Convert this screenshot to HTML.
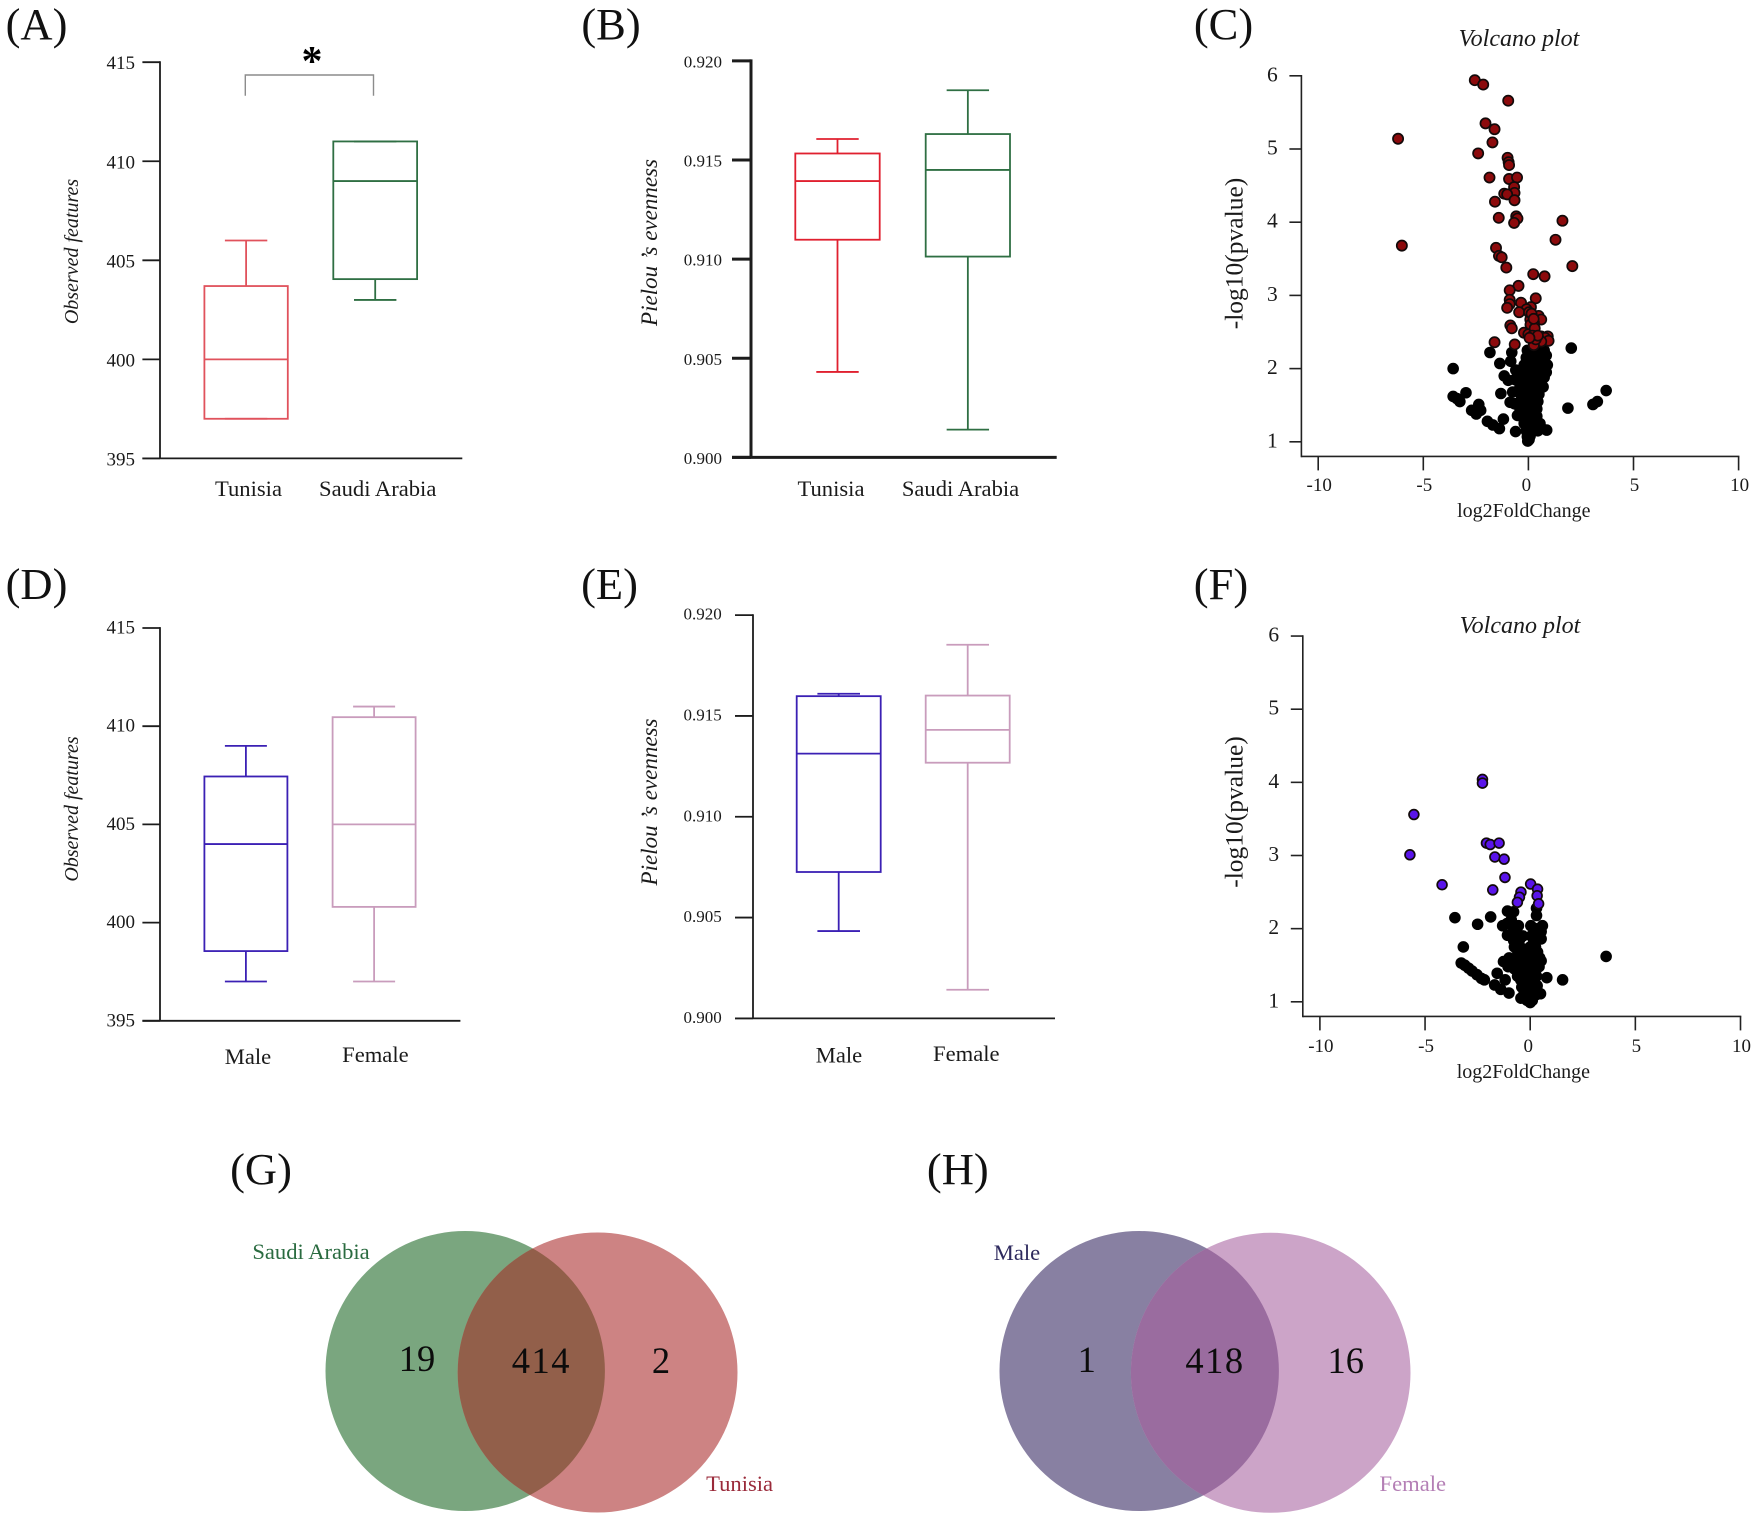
<!DOCTYPE html>
<html lang="en">
<head>
<meta charset="utf-8">
<title>Diversity, volcano and Venn panels</title>
<style>
html,body{margin:0;padding:0;background:#fff;}
svg{display:block;}
text{font-family:"Liberation Serif",serif;fill:#1a1a1a;}
</style>
</head>
<body>
<svg id="figure" xmlns="http://www.w3.org/2000/svg" width="1755" height="1517" viewBox="0 0 1755 1517"></svg>
<script>
// ---------- Box plot data: [low, q1, median, q3, high] ----------
const observedTicks = [395, 400, 405, 410, 415];
const evennessTicks = ['0.900', '0.905', '0.910', '0.915', '0.920'];

const countryCategories = ['Tunisia', 'Saudi Arabia'];
const sexCategories = ['Male', 'Female'];

const boxATunisia = [397, 397, 400, 403.7, 406];
const boxASaudi = [403, 404.05, 409, 411, 411];
const boxBTunisia = [0.90431, 0.91098, 0.91394, 0.91533, 0.91606];
const boxBSaudi = [0.9014, 0.91013, 0.9145, 0.91631, 0.91852];
const boxDMale = [397, 398.55, 404, 407.44, 409];
const boxDFemale = [397, 400.8, 405, 410.46, 411];
const boxEMale = [0.90433, 0.90726, 0.91313, 0.91598, 0.9161];
const boxEFemale = [0.90142, 0.91268, 0.91431, 0.91601, 0.91853];

// ---------- Volcano data: [log2FoldChange, -log10(pvalue)] ----------
const volcanoXTicks = [-10, -5, 0, 5, 10];
const volcanoYTicks = [1, 2, 3, 4, 5, 6];

const volcanoCSignificant = [
[-2.55,5.94],[-2.15,5.88],[-0.96,5.66],[-2.04,5.35],[-1.61,5.27],[-1.71,5.09],[-6.2,5.14],[-2.39,4.94],
[-0.99,4.88],[-0.94,4.82],[-0.92,4.78],[-1.85,4.61],[-0.92,4.59],[-0.54,4.61],[-0.68,4.48],[-0.66,4.4],
[-1.15,4.39],[-1.01,4.38],[-0.66,4.3],[-1.59,4.28],[-1.41,4.06],[-0.58,4.08],[-0.52,4.05],[-0.68,3.99],
[1.62,4.02],[1.29,3.76],[-6.02,3.68],[-1.54,3.65],[-1.4,3.54],[-1.27,3.52],[-1.05,3.38],[2.09,3.4],
[0.23,3.29],[0.77,3.26],[-0.47,3.13],[-0.89,3.07],[0.35,2.96],[-0.89,2.94],[-0.35,2.9],[-0.89,2.88],
[-1.01,2.83],[0.12,2.84],[-0.09,2.81],[-0.44,2.77],[0.03,2.77],[0.26,2.72],[0.49,2.72],[0.61,2.67],
[0.09,2.67],[0.26,2.63],[-0.86,2.59],[-0.79,2.55],[0.17,2.58],[0.17,2.51],[-0.21,2.49],[0,2.47],
[0.61,2.44],[0.92,2.44],[0.79,2.42],[0.96,2.38],[-1.61,2.36],[-0.65,2.33],[0.26,2.35],[0.61,2.37],[0.26,2.32],
[0.15,2.75],[0.1,2.6],[0.3,2.55],[0.2,2.45],[0.35,2.4],[0.45,2.45],[0.05,2.42],[0.25,2.68]
];
const volcanoCOther = [
[2.04,2.28],[-1.83,2.22],[-0.79,2.22],[-0.84,2.1],[-1.36,2.07],[-3.58,2],[-1.15,1.9],[-0.96,1.84],
[-2.97,1.67],[-3.58,1.62],[-3.4,1.59],[-3.26,1.55],[-1.31,1.66],[3.7,1.7],[3.28,1.55],[3.07,1.51],
[1.88,1.46],[-2.36,1.51],[-2.7,1.43],[-2.48,1.38],[-2.27,1.43],[-1.95,1.28],[-1.69,1.23],[-1.38,1.18],
[-1.19,1.31],[-0.61,1.14],[0.87,1.16],[0.61,1.19],[-0.75,1.68],[-0.87,1.54],[-0.66,1.52],[-0.52,1.36],
[-0.03,1.01],[0.03,1.03],[-0.6,1.98],[-0.65,1.85],
[-0.05,2.25],[0.2,2.25],[0.45,2.25],[0.75,2.25],[-0.1,2.15],[0.15,2.15],[0.4,2.15],[0.7,2.15],[0.85,2.18],
[-0.2,2.05],[0.1,2.05],[0.35,2.05],[0.6,2.05],[0.9,2.05],[-0.3,1.95],[0,1.95],[0.3,1.95],[0.55,1.95],[0.85,1.95],
[-0.35,1.85],[-0.05,1.85],[0.25,1.85],[0.5,1.85],[0.75,1.88],[-0.4,1.75],[-0.1,1.75],[0.2,1.75],[0.45,1.75],[0.7,1.75],
[-0.35,1.65],[-0.05,1.65],[0.25,1.65],[0.5,1.65],[-0.4,1.55],[-0.1,1.55],[0.2,1.55],[0.45,1.55],
[-0.4,1.45],[-0.05,1.45],[0.2,1.45],[0.4,1.45],[-0.35,1.35],[0,1.35],[0.25,1.35],[0.4,1.35],
[-0.2,1.25],[0.05,1.25],[0.3,1.25],[0.55,1.25],[-0.1,1.15],[0.15,1.15],[0.45,1.15],[-0.05,1.07],[0.08,1.08]
];
const volcanoFSignificant = [
[-2.27,4.04],[-2.27,3.99],[-5.53,3.56],[-5.72,3.01],[-2.08,3.17],[-1.9,3.15],[-1.48,3.17],[-1.68,2.98],
[-1.24,2.95],[-1.2,2.7],[-4.19,2.6],[-1.78,2.53],[0.02,2.61],[0.35,2.54],[0.33,2.45],[0.4,2.34],
[-0.44,2.5],[-0.51,2.43],[-0.61,2.36]
];
const volcanoFOther = [
[-1.08,2.24],[-0.79,2.23],[0.3,2.28],[0.3,2.18],[-3.58,2.15],[-1.88,2.16],[-2.5,2.06],[-1.31,2.04],[-1.1,2.07],
[-0.87,2.05],[-0.56,2.04],[0.03,2.04],[0.58,2.04],[-1.08,1.91],[0.52,1.96],[0.52,1.86],[-0.35,1.9],[-0.79,1.93],
[-0.79,1.84],[0.17,1.91],[0.17,1.82],[-3.18,1.75],[-0.52,1.77],[0,1.75],[3.61,1.62],[-3.28,1.53],[-3.11,1.5],
[-2.93,1.46],[-2.76,1.42],[-2.53,1.37],[-2.32,1.32],[-2.18,1.3],[0.79,1.33],[1.54,1.3],[-1.27,1.55],[-1.57,1.39],
[-1.19,1.3],[-1.69,1.23],[-1.4,1.17],[-1.01,1.12],[0.52,1.56],[0.49,1.11],[0,0.99],[-0.44,1.05],
[-0.75,1.75],[-0.6,1.7],[-0.45,1.68],[-0.3,1.72],[-0.15,1.7],[0.1,1.72],[0.25,1.75],[0.35,1.68],
[-1,1.6],[-0.85,1.58],[-0.7,1.55],[-0.55,1.6],[-0.4,1.55],[-0.25,1.6],[-0.1,1.55],[0.05,1.6],[0.2,1.58],[0.35,1.55],[0.45,1.6],
[-1.05,1.48],[-0.9,1.5],[-0.75,1.45],[-0.6,1.48],[-0.45,1.42],[-0.3,1.48],[-0.15,1.42],[0,1.48],[0.15,1.42],[0.3,1.45],[0.42,1.48],
[-0.6,1.35],[-0.45,1.3],[-0.3,1.35],[-0.15,1.3],[0,1.35],[0.15,1.3],[0.3,1.35],
[-0.4,1.2],[-0.25,1.22],[-0.1,1.18],[0.05,1.22],[0.2,1.2],[0.33,1.22],
[-0.3,1.1],[-0.15,1.08],[0,1.12],[0.15,1.08],[0.3,1.1],[-0.15,1.02],[0.1,1.02],
[-0.7,1.85],[-0.5,1.85],[-0.65,2],[-0.9,2.12],[0.05,1.9],[0.25,2],[0.42,2]
];

// ---------- Venn counts ----------
const vennGCounts = [19, 414, 2];
const vennHCounts = [1, 418, 16];

// ---------- Drawing helpers ----------
const NS = 'http://www.w3.org/2000/svg';
const root = document.getElementById('figure');

function shape(parent, tag, name, props) {
  const el = document.createElementNS(NS, tag);
  
  
  for (const k in props) { el.setAttribute(k, props[k]); }
  parent.appendChild(el);
  return el;
}
function group(parent, name) {
  return shape(parent, 'g', name, {});
}
function line(parent, name, x1, y1, x2, y2, color, width) {
  return shape(parent, 'line', name, {x1: x1, y1: y1, x2: x2, y2: y2, stroke: color, 'stroke-width': width});
}
function label(parent, name, str, x, y, size, opts) {
  const o = opts || {};
  const el = shape(parent, 'text', name, {x: x, y: y, 'font-size': size, 'text-anchor': o.anchor || 'middle'});
  if (o.italic) { el.setAttribute('font-style', 'italic'); }
  if (o.weight) { el.setAttribute('font-weight', o.weight); }
  if (o.color) { el.setAttribute('style', 'fill:' + o.color); }
  if (o.rotate) { el.setAttribute('transform', 'rotate(-90 ' + x + ' ' + y + ')'); }
  if (o.spacing) { el.setAttribute('letter-spacing', o.spacing); }
  el.textContent = str;
  return el;
}

function boxPlot(cfg) {
  const g = group(root, cfg.name);
  const y = function (v) { return cfg.yBottom + (v - cfg.vMin) / (cfg.vMax - cfg.vMin) * (cfg.yTop - cfg.yBottom); };
  const axisColor = '#1c1c1c';
  line(g, 'y-axis', cfg.axisX, y(cfg.vMax) - cfg.axisW / 2, cfg.axisX, cfg.yBottom, axisColor, cfg.axisW);
  line(g, 'x-axis', cfg.tickLeft, cfg.yBottom, cfg.xEnd, cfg.yBottom, axisColor, cfg.axisW);
  cfg.ticks.forEach(function (t) {
    const v = Number(t);
    line(g, 'y-tick', cfg.tickLeft, y(v), cfg.axisX, y(v), axisColor, cfg.axisW);
    label(g, 'y-tick-label', t, cfg.labelRight, y(v) + cfg.labelDy, cfg.tickSize, {anchor: 'end'});
  });
  label(g, 'y-axis-title', cfg.title, cfg.titleX, cfg.titleY, cfg.titleSize, {italic: true, rotate: true});
  cfg.series.forEach(function (s, i) {
    const b = g.appendChild(document.createElementNS(NS, 'g'));
    
    
    const cx = (s.x0 + s.x1) / 2;
    const capL = cx - s.cap, capR = cx + s.cap;
    const d = s.values;
    line(b, 'whisker-high', cx, y(d[3]), cx, y(d[4]), s.color, 1.8);
    line(b, 'whisker-low', cx, y(d[1]), cx, y(d[0]), s.color, 1.8);
    line(b, 'cap-high', capL, y(d[4]), capR, y(d[4]), s.color, 1.8);
    line(b, 'cap-low', capL, y(d[0]), capR, y(d[0]), s.color, 1.8);
    shape(b, 'rect', 'box-body', {x: s.x0, y: y(d[3]), width: s.x1 - s.x0, height: y(d[1]) - y(d[3]), fill: 'none', stroke: s.color, 'stroke-width': 1.8});
    line(b, 'median', s.x0, y(d[2]), s.x1, y(d[2]), s.color, 1.8);
    label(g, 'category-label', s.label, s.labelX, s.labelY, 22.6);
  });
  return g;
}

function volcano(cfg) {
  const g = group(root, cfg.name);
  const sx = function (v) { return cfg.x0 + v * cfg.xPerUnit; };
  const sy = function (v) { return cfg.y1 - (v - 1) * cfg.yPerUnit; };
  const axis = '#222';
  line(g, 'y-axis', cfg.axisX, sy(6) - 0.8, cfg.axisX, cfg.yBottom + 0.8, axis, 1.6);
  line(g, 'x-axis', cfg.axisX, cfg.yBottom, sx(10) + 0.8, cfg.yBottom, axis, 1.6);
  volcanoYTicks.forEach(function (t) {
    line(g, 'y-tick', cfg.axisX - 12, sy(t), cfg.axisX, sy(t), axis, 1.6);
    label(g, 'y-tick-label', String(t), cfg.axisX - 29, sy(t) + 5.5, 21.5);
  });
  volcanoXTicks.forEach(function (t) {
    line(g, 'x-tick', sx(t), cfg.yBottom, sx(t), cfg.yBottom + 14, axis, 1.6);
    label(g, 'x-tick-label', String(t), sx(t) + (t === 0 ? -2 : 1), cfg.xLabelY, 19);
  });
  label(g, 'x-axis-title', 'log2FoldChange', cfg.xTitleX, cfg.xTitleY, 20);
  label(g, 'y-axis-title', '-log10(pvalue)', 1242.5, cfg.yTitleY, 25.5, {rotate: true});
  label(g, 'chart-title', 'Volcano plot', cfg.titleX, cfg.titleY, 24, {italic: true});
  const other = group(g, 'non-significant-points');
  cfg.other.forEach(function (p) {
    shape(other, 'circle', 'point-non-significant', {cx: sx(p[0]), cy: sy(p[1]), r: 5.8, fill: '#000'});
  });
  const sig = group(g, 'significant-points');
  cfg.significant.forEach(function (p) {
    shape(sig, 'circle', 'point-significant', {cx: sx(p[0]), cy: sy(p[1]), r: cfg.sigR, fill: cfg.sigColor, stroke: '#120a0a', 'stroke-width': 1.7});
  });
  return g;
}

let clipCounter = 0;
function venn(cfg) {
  const g = group(root, cfg.name);
  const a = cfg.a, b = cfg.b;
  shape(g, 'ellipse', 'venn-circle-' + a.label.toLowerCase().replace(' ', '-'), {cx: a.cx, cy: a.cy, rx: a.rx, ry: a.ry, fill: a.fill});
  shape(g, 'ellipse', 'venn-circle-' + b.label.toLowerCase().replace(' ', '-'), {cx: b.cx, cy: b.cy, rx: b.rx, ry: b.ry, fill: b.fill});
  clipCounter += 1;
  const id = 'vennClip' + clipCounter;
  const clip = document.createElementNS(NS, 'clipPath');
  clip.setAttribute('id', id);
  const ce = document.createElementNS(NS, 'ellipse');
  ce.setAttribute('cx', a.cx); ce.setAttribute('cy', a.cy); ce.setAttribute('rx', a.rx); ce.setAttribute('ry', a.ry);
  clip.appendChild(ce);
  g.appendChild(clip);
  shape(g, 'ellipse', 'venn-overlap', {cx: b.cx, cy: b.cy, rx: b.rx, ry: b.ry, fill: cfg.overlap, 'clip-path': 'url(#' + id + ')'});
  label(g, 'set-label', a.label, a.labelX, a.labelY, 22.6, {color: a.labelColor});
  label(g, 'set-label', b.label, b.labelX, b.labelY, 22.6, {color: b.labelColor});
  cfg.counts.forEach(function (c, i) {
    label(g, 'venn-count', String(c), cfg.countX[i], cfg.countY[i], 36.5, {color: '#0c0c0c', spacing: String(c).length > 2 ? 1.5 : 0});
  });
  return g;
}

// ---------- Panel letters ----------
const panelLetters = group(root, 'panel-letters');
[['(A)', 36.5, 39], ['(B)', 611, 39], ['(C)', 1223.5, 39], ['(D)', 36.5, 599], ['(E)', 609.5, 599], ['(F)', 1221, 599], ['(G)', 261, 1184], ['(H)', 957.8, 1184]]
  .forEach(function (p) { label(panelLetters, 'panel-letter', p[0], p[1], p[2], 44.5, {color: '#111'}); });

// ---------- Panels ----------
const redA = '#e0525c', greenA = '#2f6f43', redB = '#e0202f', blueD = '#3b20b4', pinkD = '#c99cbc';

const panelA = boxPlot({
  name: 'panel-a-observed-features', vMin: 395, vMax: 415, yTop: 62.2, yBottom: 458.4, axisX: 160, tickLeft: 142.4, xEnd: 462.3, axisW: 1.8,
  ticks: observedTicks, labelRight: 135, labelDy: 7, tickSize: 19, title: 'Observed features', titleX: 78, titleY: 251.5, titleSize: 20,
  series: [
    {label: countryCategories[0], values: boxATunisia, x0: 204.4, x1: 287.8, cap: 21.2, color: redA, labelX: 248.5, labelY: 496},
    {label: countryCategories[1], values: boxASaudi, x0: 333.3, x1: 417.1, cap: 21.2, color: greenA, labelX: 377.7, labelY: 496}
  ]
});
shape(panelA, 'path', 'significance-bracket', {d: 'M245.3 95.7V75H373.5V95.7', fill: 'none', stroke: '#8c8c8c', 'stroke-width': 1.4});
label(panelA, 'significance-star', '*', 312, 75, 42, {color: '#000', weight: 'bold'});

boxPlot({
  name: 'panel-b-pielou-evenness', vMin: 0.9, vMax: 0.92, yTop: 60.9, yBottom: 457.4, axisX: 751, tickLeft: 732, xEnd: 1056.7, axisW: 3,
  ticks: evennessTicks, labelRight: 722, labelDy: 6.5, tickSize: 17, title: 'Pielou ’s evenness', titleX: 657, titleY: 242.5, titleSize: 23,
  series: [
    {label: countryCategories[0], values: boxBTunisia, x0: 795.3, x1: 879.7, cap: 21.2, color: redB, labelX: 831, labelY: 496},
    {label: countryCategories[1], values: boxBSaudi, x0: 925.7, x1: 1010, cap: 21.2, color: greenA, labelX: 960.5, labelY: 496}
  ]
});

volcano({
  name: 'panel-c-volcano', x0: 1528.4, xPerUnit: 21.02, y1: 441.8, yPerUnit: 73.2, axisX: 1301.4, yBottom: 456.4,
  xLabelY: 491, xTitleX: 1523.8, xTitleY: 517, yTitleY: 253.5, titleX: 1519, titleY: 46,
  significant: volcanoCSignificant, other: volcanoCOther, sigR: 5.1, sigColor: '#8c0a0c'
});

boxPlot({
  name: 'panel-d-observed-features', vMin: 395, vMax: 415, yTop: 628, yBottom: 1020.8, axisX: 160, tickLeft: 142.4, xEnd: 460.4, axisW: 1.8,
  ticks: observedTicks, labelRight: 135, labelDy: 5.5, tickSize: 19, title: 'Observed features', titleX: 78, titleY: 809, titleSize: 20,
  series: [
    {label: sexCategories[0], values: boxDMale, x0: 204.4, x1: 287.4, cap: 21, color: blueD, labelX: 248, labelY: 1064},
    {label: sexCategories[1], values: boxDFemale, x0: 332.6, x1: 415.6, cap: 21, color: pinkD, labelX: 375.4, labelY: 1062}
  ]
});

boxPlot({
  name: 'panel-e-pielou-evenness', vMin: 0.9, vMax: 0.92, yTop: 615.1, yBottom: 1018.4, axisX: 753, tickLeft: 735, xEnd: 1055, axisW: 1.8,
  ticks: evennessTicks, labelRight: 721.7, labelDy: 4.5, tickSize: 17, title: 'Pielou ’s evenness', titleX: 657, titleY: 802, titleSize: 23,
  series: [
    {label: sexCategories[0], values: boxEMale, x0: 796.7, x1: 880.7, cap: 21.3, color: blueD, labelX: 839, labelY: 1062.7},
    {label: sexCategories[1], values: boxEFemale, x0: 925.7, x1: 1009.7, cap: 21.3, color: pinkD, labelX: 966.3, labelY: 1061}
  ]
});

volcano({
  name: 'panel-f-volcano', x0: 1530.2, xPerUnit: 21.03, y1: 1001.8, yPerUnit: 73.15, axisX: 1302.8, yBottom: 1016.4,
  xLabelY: 1052, xTitleX: 1523.4, xTitleY: 1078, yTitleY: 812, titleX: 1520, titleY: 633,
  significant: volcanoFSignificant, other: volcanoFOther, sigR: 4.9, sigColor: '#5a14ea'
});

venn({
  name: 'venn-g-country', overlap: '#925f4a', counts: vennGCounts, countX: [417, 541.4, 661], countY: [1371, 1373, 1373],
  a: {label: countryCategories[1], cx: 465.2, cy: 1371, rx: 139.7, ry: 140, fill: '#7aa67f', labelX: 311, labelY: 1259, labelColor: '#2a6b40'},
  b: {label: countryCategories[0], cx: 597.6, cy: 1372.5, rx: 139.9, ry: 140, fill: '#cd8383', labelX: 739.6, labelY: 1491, labelColor: '#9a2a3a'}
});

venn({
  name: 'venn-h-sex', overlap: '#9a6c9f', counts: vennHCounts, countX: [1086.8, 1215, 1345.8], countY: [1372, 1373, 1373],
  a: {label: sexCategories[0], cx: 1139.2, cy: 1371, rx: 139.7, ry: 140, fill: '#8880a2', labelX: 1017, labelY: 1260, labelColor: '#2e2a5e'},
  b: {label: sexCategories[1], cx: 1270.7, cy: 1372.8, rx: 139.8, ry: 140, fill: '#cca4c8', labelX: 1412.8, labelY: 1491, labelColor: '#b47fb5'}
});
</script>
</body>
</html>
